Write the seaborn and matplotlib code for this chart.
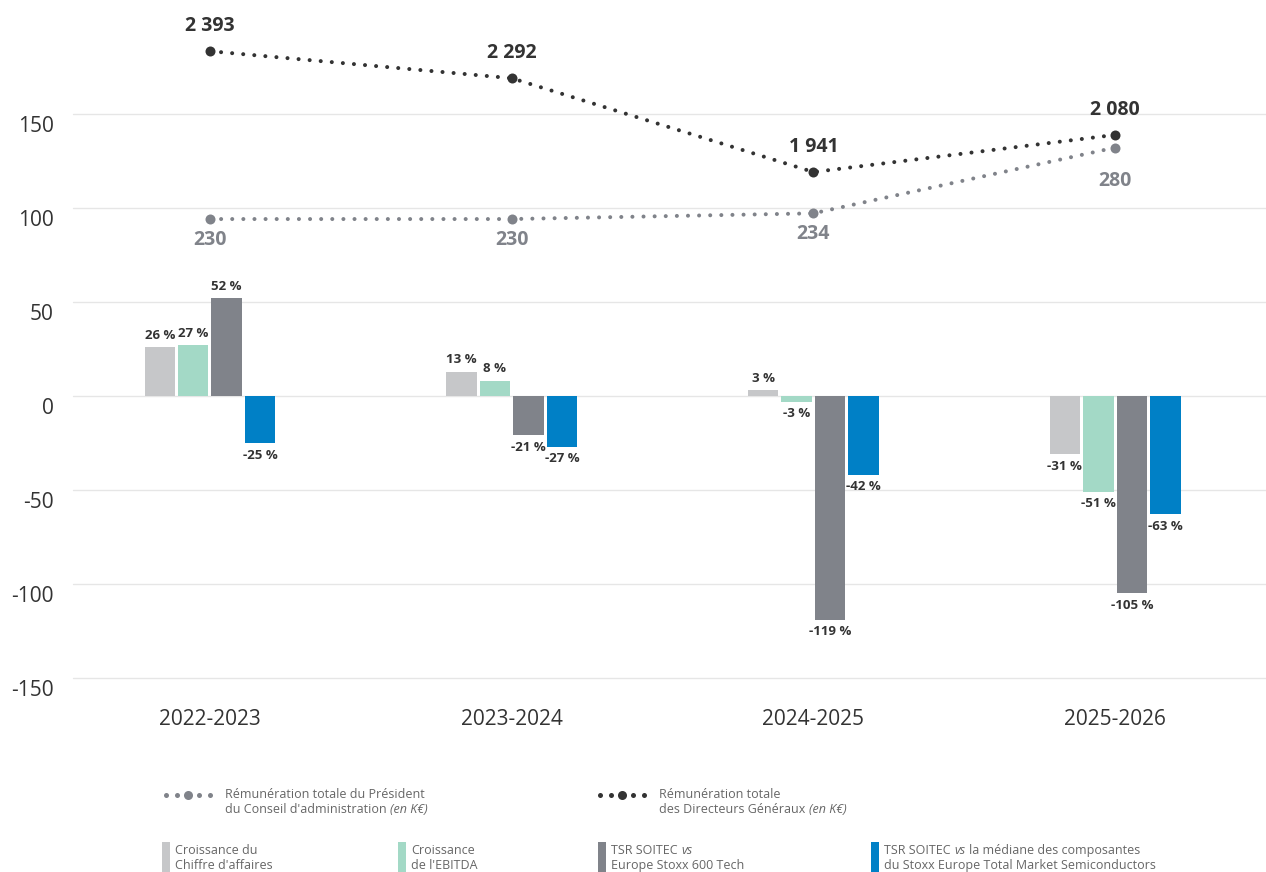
import numpy as np
import pandas as pd
import matplotlib
matplotlib.use("Agg")
import matplotlib.pyplot as plt
import seaborn as sns
from matplotlib.transforms import ScaledTranslation
from matplotlib.patches import Rectangle

# ---------------- data ----------------
periods = ["2022-2023", "2023-2024", "2024-2025", "2025-2026"]
croissance_ca = [26, 13, 3, -31]
croissance_ebitda = [27, 8, -3, -51]
tsr_tech = [52, -21, -119, -105]
tsr_semi = [-25, -27, -42, -63]
remun_president = [230, 230, 234, 280]
remun_dg = [2393, 2292, 1941, 2080]
series_names = ["Croissance du Chiffre d'affaires", "Croissance de l'EBITDA",
                "TSR SOITEC vs Europe Stoxx 600 Tech",
                "TSR SOITEC vs médiane Stoxx Europe Total Market Semiconductors"]
y_ticks = [150, 100, 50, 0, -50, -100, -150]

colors = ["#C6C7C9", "#A3D9C6", "#80838A", "#0080C6"]
c_dg = "#333333"
c_pres = "#80838A"
c_text = "#333333"
c_leg = "#666666"

sns.set_theme(style="white")
plt.rcParams["font.family"] = ["Open Sans", "DejaVu Sans"]

rows = []
for name, vals in zip(series_names, [croissance_ca, croissance_ebitda, tsr_tech, tsr_semi]):
    for p, v in zip(periods, vals):
        rows.append({"period": p, "series": name, "value": v})
df = pd.DataFrame(rows)

W, H = 1266, 872
fig = plt.figure(figsize=(W / 100, H / 100), dpi=100)
ax = fig.add_axes([73 / W, 1 - 678 / H, (W - 73) / W, 678 / H])

sns.barplot(data=df, x="period", y="value", hue="series", hue_order=series_names,
            order=periods, palette=colors, width=0.444, gap=0.09, saturation=1,
            linewidth=0, legend=False, ax=ax, zorder=2)

all_vals = [croissance_ca, croissance_ebitda, tsr_tech, tsr_semi]
for cont, vals in zip(ax.containers, all_vals):
    ax.bar_label(cont, labels=[f"{v} %" for v in vals], padding=4,
                 fontsize=9.5, fontweight="bold", color=c_text)

ax.set_ylim(-150, 210.6)
ax.set_yticks(y_ticks)
ax.set_yticklabels([str(t) for t in y_ticks])
ax.yaxis.grid(True, color="#E6E6E6", lw=1)
for gl in ax.get_ygridlines():
    gl.set_clip_on(False)
ax.set_axisbelow(True)
for s in ax.spines.values():
    s.set_visible(False)
ax.set_xlabel("")
ax.set_ylabel("")
ax.tick_params(axis="y", length=0, pad=14, labelsize=15, colors=c_text)
off = ScaledTranslation(0, -10 / 100, fig.dpi_scale_trans)
for lab in ax.get_yticklabels():
    lab.set_transform(lab.get_transform() + off)

# ---------------- lines on hidden twin axes ----------------
xpos = np.arange(len(periods))
dotted = (0, (0.01, 2.75))

ax_dg = ax.twinx()
ax_dg.set_ylim(48.6, 2584.5)
sns.lineplot(x=xpos, y=remun_dg, ax=ax_dg, color=c_dg, lw=2.9, linestyle=dotted,
             dash_capstyle="round", marker="o", markersize=7.2, markeredgewidth=0)
for i, v in enumerate(remun_dg):
    ax_dg.annotate(f"{v:,}".replace(",", " "), (i, v), xytext=(0, 11),
                   textcoords="offset points", ha="center", va="bottom",
                   fontsize=14, fontweight="bold", color=c_dg)
ax_dg.axis("off")

ax_p = ax.twinx()
ax_p.set_ylim(-91.2, 383.3)
sns.lineplot(x=xpos, y=remun_president, ax=ax_p, color=c_pres, lw=2.9, linestyle=dotted,
             dash_capstyle="round", marker="o", markersize=7.2, markeredgewidth=0)
pres_label_drop = [-8, -8, -8, -17]
for i, v in enumerate(remun_president):
    ax_p.annotate(str(v), (i, v), xytext=(0, pres_label_drop[i]), textcoords="offset points",
                  ha="center", va="top", fontsize=14, fontweight="bold", color=c_pres)
ax_p.axis("off")

ax.set_xlim(-0.454, 3.50)
ax.set_xticks(xpos)
ax.set_xticklabels(periods)
ax.tick_params(axis="x", length=0, pad=22, labelsize=15, colors=c_text)

# ---------------- legend (pixel overlay) ----------------
lg = fig.add_axes([0, 0, 1, 1])
lg.set_xlim(0, W)
lg.set_ylim(H, 0)
lg.axis("off")
renderer = fig.canvas.get_renderer()
FS = 9


def rich(x, y, parts):
    for txt, style in parts:
        t = lg.text(x, y, txt, fontsize=FS, color=c_leg, style=style,
                    va="center", ha="left")
        bb = t.get_window_extent(renderer=renderer)
        x += bb.width + 3.5


def dots_marker(x0, y, color):
    xs = [x0 + 3, x0 + 14, x0 + 25, x0 + 36, x0 + 47]
    sizes = [3.6, 3.6, 6.5, 3.6, 3.6]
    for xx, ms in zip(xs, sizes):
        lg.plot([xx], [y], "o", color=color, ms=ms, mew=0)


dots_marker(163, 795, c_pres)
rich(225, 794, [("Rémunération totale du Président", "normal")])
rich(225, 809, [("du Conseil d'administration", "normal"), ("(en K€)", "italic")])

dots_marker(597, 795, c_dg)
rich(659, 794, [("Rémunération totale", "normal")])
rich(659, 809, [("des Directeurs Généraux", "normal"), ("(en K€)", "italic")])

bar_leg = [
    (162, colors[0], [("Croissance du", "normal")], [("Chiffre d'affaires", "normal")]),
    (398, colors[1], [("Croissance", "normal")], [("de l'EBITDA", "normal")]),
    (598, colors[2], [("TSR SOITEC", "normal"), ("vs", "italic")],
     [("Europe Stoxx 600 Tech", "normal")]),
    (871, colors[3], [("TSR SOITEC", "normal"), ("vs", "italic"),
                      ("la médiane des composantes", "normal")],
     [("du Stoxx Europe Total Market Semiconductors", "normal")]),
]
for x0, col, l1, l2 in bar_leg:
    lg.add_patch(Rectangle((x0, 842), 8, 40, color=col, lw=0))
    rich(x0 + 13, 850, l1)
    rich(x0 + 13, 865, l2)

fig.savefig("out.png", dpi=100)
